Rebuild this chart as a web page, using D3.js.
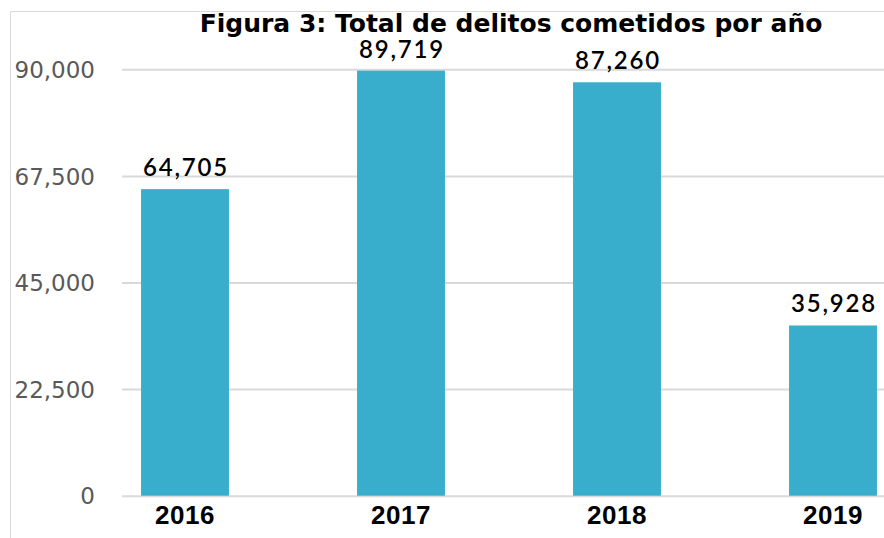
<!DOCTYPE html>
<html>
<head>
<meta charset="utf-8">
<script src="https://cdn.jsdelivr.net/npm/d3@7"></script>
<style>
  body { margin: 0; background: #fff; }
  svg { display: block; font-family: Lato, "Open Sans", sans-serif; }
</style>
</head>
<body>
<svg id="chart" width="884" height="538"></svg>
<script>
"use strict";

var years = ['2016', '2017', '2018', '2019'];
var totals = [64705, 89719, 87260, 35928];
var y_ticks = [0, 22500, 45000, 67500, 90000];
var title = 'Figura 3: Total de delitos cometidos por año';

function draw_chart() {
  var svg = d3.select('#chart');
  var data = years.map(function (y, i) { return { year: y, total: totals[i] }; });

  var fmt = d3.format(',');

  var xscale = d3.scaleBand().domain(years)
    .range([77, 941])
    .paddingInner(0.593)
    .paddingOuter(0.2965);
  var yscale = d3.scaleLinear().domain([0, 90000]).range([495.7, 69.3]);

  // frame
  svg.append('path')
    .attr('d', 'M10.5,538 V11.5 H884')
    .attr('fill', 'none')
    .attr('stroke', '#d9d9d9')
    .attr('stroke-width', 1);

  // gridlines + y labels
  var yaxis = d3.axisLeft(yscale)
    .tickValues(y_ticks)
    .tickSize(-(884 - 122))
    .tickPadding(27)
    .tickFormat(fmt);
  var ya = svg.append('g')
    .attr('transform', 'translate(122,0)')
    .call(yaxis);
  ya.select('.domain').remove();
  ya.selectAll('.tick line')
    .attr('stroke', '#d9d9d9')
    .attr('stroke-width', 2);
  ya.selectAll('.tick text')
    .attr('fill', '#595959')
    .attr('font-family', '"DejaVu Sans", sans-serif')
    .attr('font-size', 23)
    .attr('dy', '0.36em');

  svg.append('g').selectAll('rect')
    .data(data)
    .enter().append('rect')
    .attr('x', d => xscale(d.year))
    .attr('width', xscale.bandwidth())
    .attr('y', d => yscale(d.total))
    .attr('height', d => yscale(0) - yscale(d.total))
    .attr('fill', '#38aecc');

  svg.append('g').selectAll('text')
    .data(data)
    .enter().append('text')
    .attr('x', d => xscale(d.year) + xscale.bandwidth() / 2 + 1)
    .attr('y', d => yscale(d.total) - 13)
    .attr('text-anchor', 'middle')
    .attr('font-size', 24)
    .attr('font-weight', 600)
    .attr('letter-spacing', 1.8)
    .attr('fill', '#000')
    .text(d => fmt(d.total));

  var xaxis = d3.axisBottom(xscale).tickSize(0).tickPadding(0);
  var xa = svg.append('g')
    .attr('transform', 'translate(0,' + 524 + ')')
    .call(xaxis);
  xa.select('.domain').remove();
  xa.selectAll('.tick text')
    .attr('dy', 0)
    .attr('font-size', 26)
    .attr('font-weight', 600)
    .attr('letter-spacing', 0.5)
    .attr('fill', '#000');

  svg.append('text')
    .attr('x', 511)
    .attr('y', 32)
    .attr('text-anchor', 'middle')
    .attr('font-family', '"DejaVu Sans", sans-serif')
    .attr('font-size', 25)
    .attr('font-weight', 'bold')
    .attr('fill', '#000')
    .text(title);
}

draw_chart();
</script>
</body>
</html>
